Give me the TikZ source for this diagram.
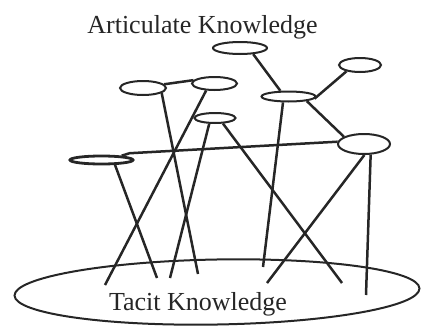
\documentclass[tikz,border=0pt]{standalone}
\usepackage{fontspec}
\setmainfont{Liberation Serif}
\usetikzlibrary{shapes.geometric}

\begin{document}
\begin{tikzpicture}[x=1pt, y=-1pt, every node/.style={font=\fontsize{26}{30}\selectfont, text=black!85},
  idea/.style={draw=black!85, ellipse, line width=2pt, inner sep=0pt},
  link/.style={draw=black!85, line width=2.5pt}]
  \useasboundingbox (0,0) rectangle (421,327);
  % Tacit knowledge as the ground ellipse.
  \node[idea, minimum width=405pt, minimum height=65pt, rotate=1] (tacit) at (217,292) {};
  \node[anchor=base] (tacitlabel) at (198,310) {Tacit Knowledge};
  \node[anchor=base] (articulate) at (202.5,33) {Articulate Knowledge};
  % Articulate ideas.
  \foreach \n/\x/\y/\w/\h in {e1/240/48/54/12, e2/360/65/42/14, e3/143/88/46/14,
      e4/214.5/83.5/45/13, e5/288.5/96.5/54/10, e6/215/118/41/10, e7/364/144/52/20} {
    \node[idea, minimum width=\w pt, minimum height=\h pt] (\n) at (\x,\y) {};
  }
  \node[idea, line width=2.8pt, minimum width=63pt, minimum height=8pt] (e8) at (101.5,160) {};
  % Roots in the tacit ground.
  \foreach \n/\x/\y in {ra/105/285, rb/157/278, rc/170/278, rd/198/274,
      re/263/267, rf/267/283, rg/342/283, rh/366/295} {
    \coordinate (\n) at (\x,\y);
  }
  \foreach \s/\t in {e3.10/e4.171, e1.-25/e5.145, e2.205/e5.-5, e5.-14/e7.160,
      e8.-20/rb, e4.-140/ra, e3.-15/rd, e6.-135/rc, e6.-35/rg,
      e5.-133/re, e7.-88/rf, e7.-58/rh} {
    \draw[link] (\s) -- (\t);
  }
  \draw[link] (e8.12) -- ++(8,-2.5) -- (e7.175);
\end{tikzpicture}
\end{document}
